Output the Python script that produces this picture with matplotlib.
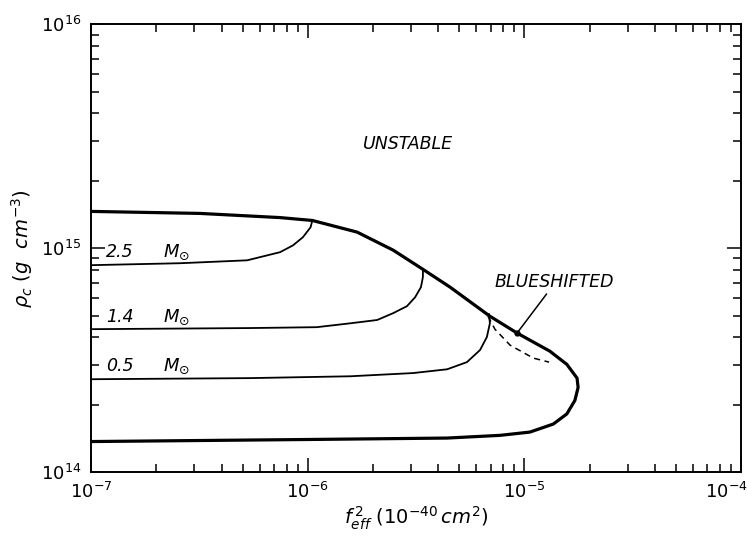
import matplotlib
matplotlib.use("Agg")
import matplotlib.pyplot as plt
import matplotlib.transforms as mtransforms

# outer boundary (thick): upper edge, nose, lower edge
outer_f2 = [1e-7, 3.18e-7, 7.45e-7, 1.05e-6, 1.69e-6, 2.48e-6, 3.40e-6, 4.54e-6,
            6.93e-6, 9.25e-6, 1.31e-5, 1.57e-5, 1.75e-5, 1.77e-5, 1.71e-5, 1.57e-5,
            1.36e-5, 1.06e-5, 7.71e-6, 4.40e-6, 1.06e-6, 1e-7]
outer_rho = [1.46e15, 1.43e15, 1.37e15, 1.33e15, 1.18e15, 9.8e14, 8.05e14, 6.70e14,
             4.97e14, 4.18e14, 3.47e14, 3.03e14, 2.63e14, 2.39e14, 2.09e14, 1.82e14,
             1.64e14, 1.51e14, 1.46e14, 1.42e14, 1.40e14, 1.37e14]

# constant-mass tracks
m25_f2 = [1e-7, 2.58e-7, 5.25e-7, 7.45e-7, 8.55e-7, 9.5e-7, 1.03e-6, 1.05e-6]
m25_rho = [8.4e14, 8.57e14, 8.83e14, 9.6e14, 1.03e15, 1.12e15, 1.24e15, 1.33e15]

m14_f2 = [1e-7, 5.42e-7, 1.10e-6, 1.57e-6, 2.09e-6, 2.48e-6, 2.87e-6, 3.13e-6,
          3.33e-6, 3.40e-6, 3.40e-6]
m14_rho = [4.35e14, 4.40e14, 4.44e14, 4.62e14, 4.78e14, 5.13e14, 5.51e14, 6.04e14,
           6.70e14, 7.43e14, 8.05e14]

m05_f2 = [1e-7, 5.42e-7, 1.57e-6, 3.06e-6, 4.40e-6, 5.43e-6, 6.24e-6, 6.71e-6,
          6.93e-6, 6.87e-6]
m05_rho = [2.60e14, 2.63e14, 2.68e14, 2.77e14, 2.88e14, 3.10e14, 3.51e14, 4.01e14,
           4.62e14, 5.07e14]

# blueshift boundary (dashed)
blue_f2 = [6.79e-6, 7.31e-6, 8.59e-6, 1.10e-5, 1.30e-5]
blue_rho = [4.97e14, 4.35e14, 3.69e14, 3.23e14, 3.10e14]

mass_labels = ["2.5", "1.4", "0.5"]
mass_label_rho = [9.6e14, 4.92e14, 2.97e14]

x_ticks = [1e-7, 1e-6, 1e-5, 1e-4]
y_ticks = [1e14, 1e15, 1e16]

fig = plt.figure(figsize=(7.47, 5.39), dpi=100)
ax = fig.add_axes([0.122, 0.124, 0.870, 0.831])

ax.plot(outer_f2, outer_rho, color="black", lw=2.3, solid_joinstyle="round")
for f2, rho in [(m25_f2, m25_rho), (m14_f2, m14_rho), (m05_f2, m05_rho)]:
    ax.plot(f2, rho, color="black", lw=1.3)
ax.plot(blue_f2, blue_rho, color="black", lw=1.1, ls=(0, (4, 3)))

ax.set_xscale("log")
ax.set_yscale("log")
ax.set_xticks(x_ticks)
ax.set_yticks(y_ticks)
ax.set_xlim(1e-7, 1e-4)
ax.set_ylim(1e14, 1e16)

txt = dict(fontstyle="italic", fontsize=12.5, color="black")
for lab, rho in zip(mass_labels, mass_label_rho):
    ax.text(1.17e-7, rho, lab, va="center", ha="left", **txt)
    ax.text(2.15e-7, rho, r"$M_{\odot}$", va="center", ha="left", fontsize=13)

ax.text(1.80e-6, 2.91e15, "UNSTABLE", va="center", ha="left", **txt)
ax.annotate("BLUESHIFTED", xy=(9.25e-6, 4.18e14), xytext=(7.31e-6, 7.05e14),
            va="center", ha="left",
            arrowprops=dict(arrowstyle="-", color="black", lw=1.1,
                            shrinkA=0, shrinkB=0, relpos=(0.45, 0.0)),
            **txt)
ax.plot([9.25e-6], [4.18e14], marker="o", ms=3.5, color="black")

ax.set_xlabel(r"$f_{eff}^{\,2}\ (10^{-40}\,cm^{2})$", fontsize=14, labelpad=2)
ax.set_ylabel(r"$\rho_c\ (g\ \ cm^{-3})$", fontsize=14, labelpad=4)

for s in ax.spines.values():
    s.set_linewidth(1.4)
ax.tick_params(which="both", direction="in", top=True, right=True, width=1.1)
ax.tick_params(which="major", length=10, labelsize=13, pad=7)
ax.tick_params(which="minor", length=6)

# keep the 10^-4 label inside the figure
last = ax.xaxis.get_major_ticks()[-1].label1
last.set_horizontalalignment("right")
last.set_transform(last.get_transform() +
                   mtransforms.ScaledTranslation(5 / 72, 0, fig.dpi_scale_trans))

fig.savefig("out.png", dpi=100)
